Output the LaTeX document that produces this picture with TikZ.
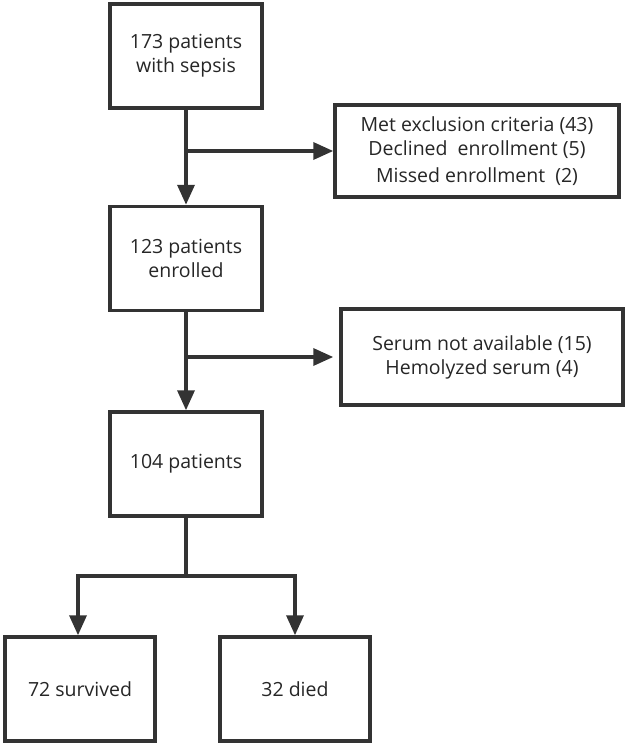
\documentclass[tikz,border=0pt]{standalone}
\usepackage{fontspec}
\setmainfont{Open Sans}
\usepackage{xcolor}
\usetikzlibrary{positioning, arrows.meta}

\definecolor{linegray}{HTML}{333333}

\begin{document}
\begin{tikzpicture}[
    x=1pt, y=-1pt,
    % Define specific styles to match the drawing
    stage/.style={
        rectangle,
        draw=linegray,
        line width=3.5pt,
        text=black!85,
        font=\fontsize{19.5}{24}\selectfont,
        minimum width=152pt,
        minimum height=104pt,
        inner sep=2pt,
        align=center
    },
    dropout/.style={
        stage,
        minimum width=284pt,
        minimum height=92pt
    },
    flow/.style={
        draw=linegray,
        line width=3.5pt,
        -{Triangle[length=20pt,width=17pt]}
    },
    trunk/.style={
        draw=linegray,
        line width=3.5pt
    }
]
    \useasboundingbox (0,0) rectangle (628,747);

    % --- Main flow ---
    \node[stage] (sepsis) at (186,56) {173 patients\\with sepsis};
    \node[stage] (enrolled) at (186,258.5) {123 patients\\enrolled};
    \node[stage] (patients) at (186,464) {104 patients};

    % --- Side boxes ---
    \node[dropout] (excluded) at (477,151) {Met exclusion criteria (43)\\Declined~~enrollment (5)\\[3pt]Missed enrollment~~(2)};
    \node[dropout, minimum width=282pt, minimum height=96pt] (serum) at (482,357) {Serum not available (15)\\Hemolyzed serum (4)};

    % --- Outcomes ---
    \node[stage, minimum width=150pt] (survived) at (80,689) {72 survived};
    \node[stage, minimum width=150pt] (died) at (295,689) {32 died};

    % --- Branch points ---
    \coordinate (cut1) at (186,151);
    \coordinate (cut2) at (186,357);
    \coordinate (split) at (186,576);

    % --- Connectors ---
    \draw[flow] (sepsis) -- (enrolled);
    \draw[flow] (cut1) -- (excluded.west);
    \draw[flow] (enrolled) -- (patients);
    \draw[flow, shorten >=6pt] (cut2) -- (serum.west);

    \draw[trunk] (patients) -- (split);
    \draw[flow] (split) -| ([xshift=-2pt]survived.north);
    \draw[flow] (split) -| (died.north);

\end{tikzpicture}
\end{document}
